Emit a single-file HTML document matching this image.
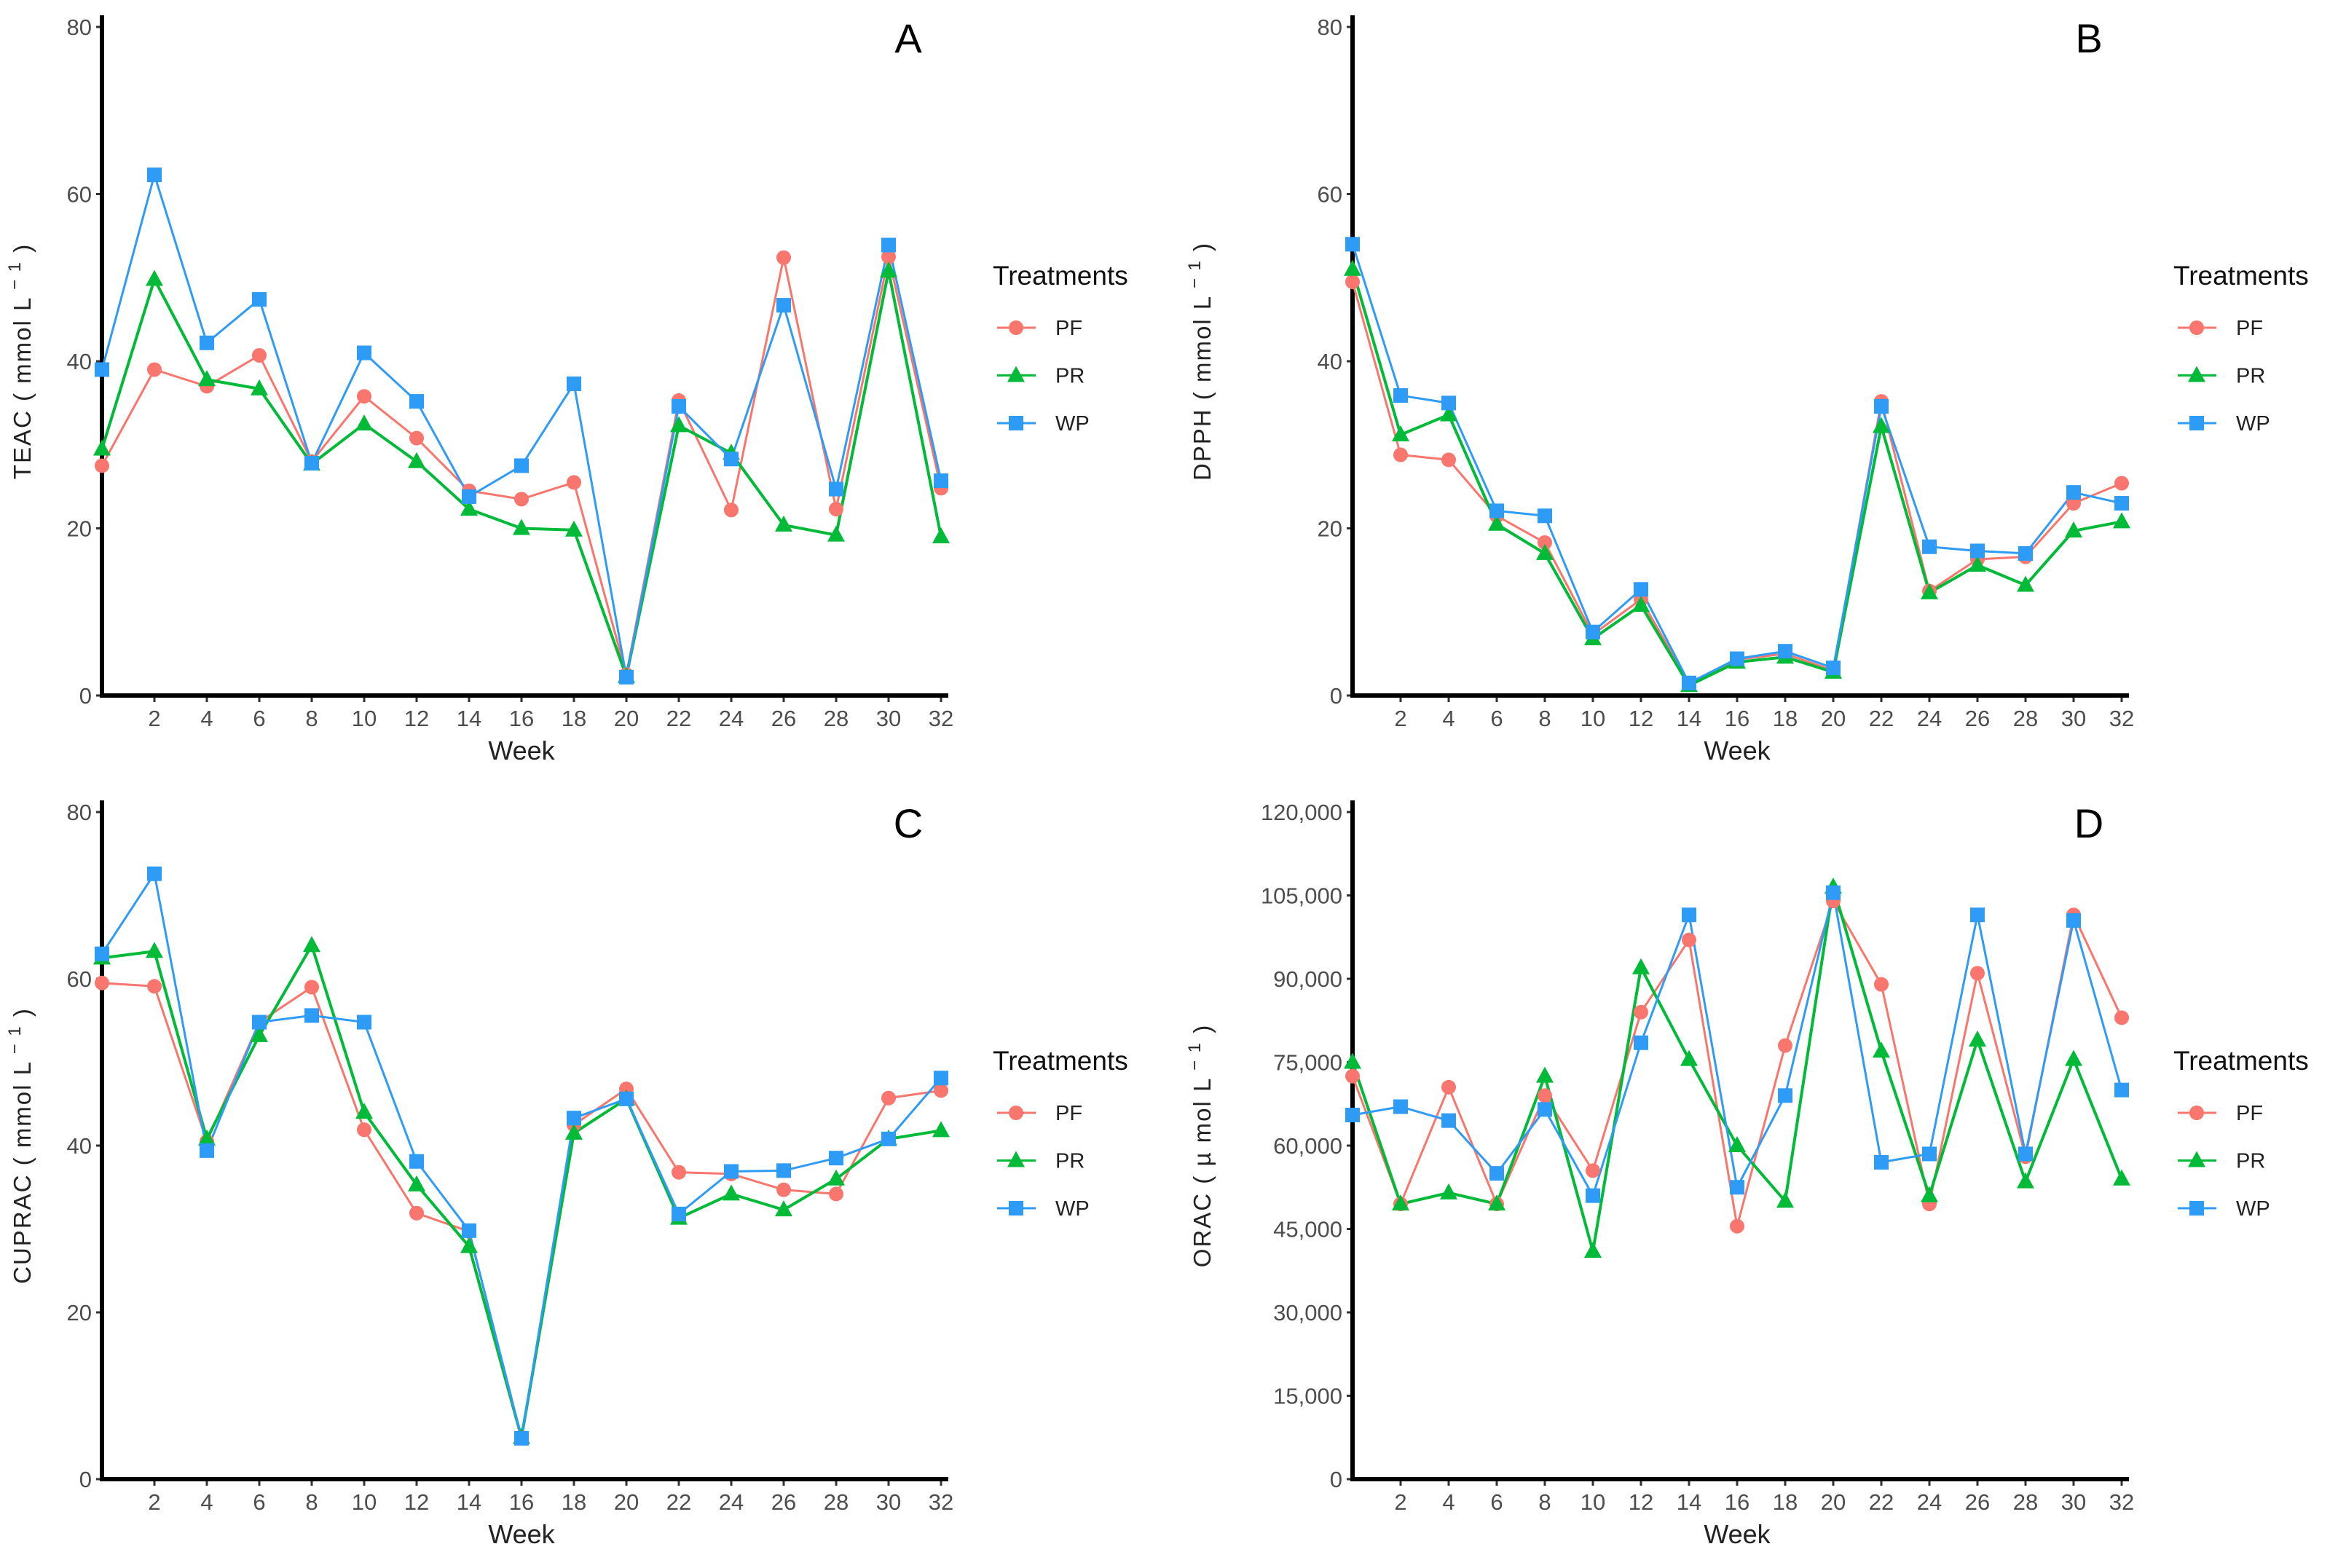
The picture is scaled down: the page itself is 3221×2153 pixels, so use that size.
<!DOCTYPE html>
<html><head><meta charset="utf-8"><style>
html,body{margin:0;padding:0;background:#fff;}
svg{display:block;font-family:"Liberation Sans",sans-serif;}
</style></head><body>
<svg id="fig" width="3221" height="2153" viewBox="0 0 3221 2153" xmlns="http://www.w3.org/2000/svg"></svg>
<script>
const weeks=[0,2,4,6,8,10,12,14,16,18,20,22,24,26,28,30,32];
const xTicks=[2,4,6,8,10,12,14,16,18,20,22,24,26,28,30,32];
const seriesNames=["PF","PR","WP"];
const teacPF=[27.5,39,37,40.7,28,35.8,30.8,24.5,23.5,25.5,2.5,35.3,22.2,52.4,22.3,52.5,24.8];
const teacPR=[29.5,49.8,37.8,36.7,27.7,32.5,28,22.3,20,19.8,2.3,32.3,29,20.4,19.2,50.8,19];
const teacWP=[39,62.3,42.2,47.4,27.8,41,35.2,23.8,27.5,37.3,2.2,34.6,28.3,46.7,24.7,53.9,25.7];
const dpphPF=[49.5,28.8,28.2,21.5,18.3,7.3,11.5,1.5,4.3,5,3,35.2,12.5,16.3,16.6,23,25.4];
const dpphPR=[51,31.2,33.6,20.5,17,6.8,10.8,1.2,4,4.6,2.8,32.2,12.3,15.6,13.2,19.7,20.8];
const dpphWP=[54,35.9,35,22.1,21.5,7.6,12.7,1.5,4.4,5.3,3.3,34.6,17.8,17.3,17,24.3,23];
const cupracPF=[59.5,59.1,40.5,54.8,59,41.9,31.9,29.7,5,42.5,46.8,36.8,36.6,34.7,34.2,45.7,46.6];
const cupracPR=[62.5,63.3,40.8,53.2,64,44,35.3,27.9,5,41.5,45.6,31.3,34.2,32.3,36,40.8,41.8];
const cupracWP=[63,72.6,39.4,54.8,55.6,54.8,38.1,29.8,4.9,43.3,45.6,31.8,36.9,37,38.5,40.8,48.1];
const oracPF=[72500,49500,70500,49500,69000,55500,84000,97000,45500,78000,104000,89000,49500,91000,58000,101500,83000];
const oracPR=[75000,49500,51500,49500,72500,41000,92000,75500,60000,50000,106500,77000,51000,79000,53500,75500,54000];
const oracWP=[65500,67000,64500,55000,66500,51000,78500,101500,52500,69000,105500,57000,58500,101500,58500,100500,70000];
const ticksSmall=[0,20,40,60,80];
const ticksOrac=[0,15000,30000,45000,60000,75000,90000,105000,120000];

const NS="http://www.w3.org/2000/svg";
const svg=document.getElementById('fig');
const colors={PF:"#F8766D",PR:"#00BA38",WP:"#2E9BF6"};
function mk(tag,attrs,parent,text){const e=document.createElementNS(NS,tag);for(const k in attrs)e.setAttribute(k,attrs[k]);if(text!==undefined)e.textContent=text;(parent||svg).appendChild(e);return e;}
function marker(g,name,x,y){
  let m;
  if(name==="PF") m=mk('circle',{cx:x,cy:y,r:10,fill:colors.PF},g);
  else if(name==="PR") m=mk('polygon',{points:`${x},${y-13} ${x-12},${y+9} ${x+12},${y+9}`,fill:colors.PR},g);
  else m=mk('rect',{x:x-10,y:y-10,width:20,height:20,fill:colors.WP},g);
  
  
}
function panel(p){
  const g=mk('g',{});
  
  
  const xs=w=>p.x0+(w/32)*(p.x32-p.x0);
  const ys=v=>p.yb-(v/p.ymax)*(p.yb-p.yt);
  p.yticks.forEach(t=>{
    mk('line',{x1:p.x0-8,x2:p.x0,y1:ys(t),y2:ys(t),stroke:"#333","stroke-width":3},g);
    const lb=mk('text',{x:p.x0-14,y:ys(t)+11,"text-anchor":"end","font-size":31,fill:"#4d4d4d"},g,t>=1000?t.toLocaleString('en-US'):t);
    
    
  });
  xTicks.forEach(t=>{
    mk('line',{x1:xs(t),x2:xs(t),y1:p.yb,y2:p.yb+9,stroke:"#333","stroke-width":3},g);
    const lb=mk('text',{x:xs(t),y:p.yb+42,"text-anchor":"middle","font-size":31,fill:"#4d4d4d"},g,t);
    
    
  });
  const ax=mk('line',{x1:p.x0,x2:p.x0,y1:p.yt-16,y2:p.yb+3,stroke:"#000","stroke-width":6},g);
  
  const bx=mk('line',{x1:p.x0-3,x2:p.x32+10,y1:p.yb,y2:p.yb,stroke:"#000","stroke-width":6},g);
  
  seriesNames.forEach((n,i)=>{
    const vals=p.data[i];
    const pts=vals.map((v,j)=>xs(weeks[j])+","+ys(v)).join(" ");
    const ln=mk('polyline',{points:pts,fill:"none",stroke:colors[n],"stroke-width":n==="PR"?4:3,"stroke-linejoin":"round"},g);
    
    
  });
  seriesNames.forEach((n,i)=>{p.data[i].forEach((v,j)=>marker(g,n,xs(weeks[j]),ys(v)));});
  const xt=mk('text',{x:(p.x0+p.x32)/2,y:p.yb+88,"text-anchor":"middle","font-size":36,fill:"#222"},g,"Week");
  
  const cy=(p.yt+p.yb)/2, tx=p.titleX;
  const yt=mk('text',{x:tx,y:cy,"text-anchor":"middle","font-size":33,fill:"#222","letter-spacing":2,transform:`rotate(-90 ${tx} ${cy})`},g);
  
  yt.textContent=p.ytitle+" ( "+p.unit+"  L";
  mk('tspan',{dy:-14,"font-size":24},yt," − 1");
  mk('tspan',{dy:14},yt," )");
  const lt=mk('text',{x:p.x32-45,y:p.yt+35,"text-anchor":"middle","font-size":56,fill:"#000"},g,p.letter);
  
  const lg=mk('g',{},g);
  
  const lx=p.x32+77;
  mk('text',{x:lx-6,y:p.yt+354,"font-size":37,fill:"#111"},lg,"Treatments");
  seriesNames.forEach((n,i)=>{
    const y=p.yt+413+i*65.5;
    const e=mk('g',{},lg);
    
    
    mk('line',{x1:lx,x2:lx+53,y1:y,y2:y,stroke:colors[n],"stroke-width":3},e);
    marker(e,n,lx+26,y);
    mk('text',{x:lx+80,y:y+10,"font-size":29,fill:"#222"},e,n);
  });
}
panel({id:'panel-a-teac',x0:140,x32:1292,yt:37,yb:955,ymax:80,yticks:ticksSmall,data:[teacPF,teacPR,teacWP],ytitle:"TEAC",unit:"mmol",letter:"A",titleX:42});
panel({id:'panel-b-dpph',x0:1857,x32:2913,yt:37,yb:955,ymax:80,yticks:ticksSmall,data:[dpphPF,dpphPR,dpphWP],ytitle:"DPPH",unit:"mmol",letter:"B",titleX:1662});
panel({id:'panel-c-cuprac',x0:140,x32:1292,yt:1115,yb:2031,ymax:80,yticks:ticksSmall,data:[cupracPF,cupracPR,cupracWP],ytitle:"CUPRAC",unit:"mmol",letter:"C",titleX:42});
panel({id:'panel-d-orac',x0:1857,x32:2913,yt:1115,yb:2031,ymax:120000,yticks:ticksOrac,data:[oracPF,oracPR,oracWP],ytitle:"ORAC",unit:"µ mol",letter:"D",titleX:1662});
</script>
</body></html>
